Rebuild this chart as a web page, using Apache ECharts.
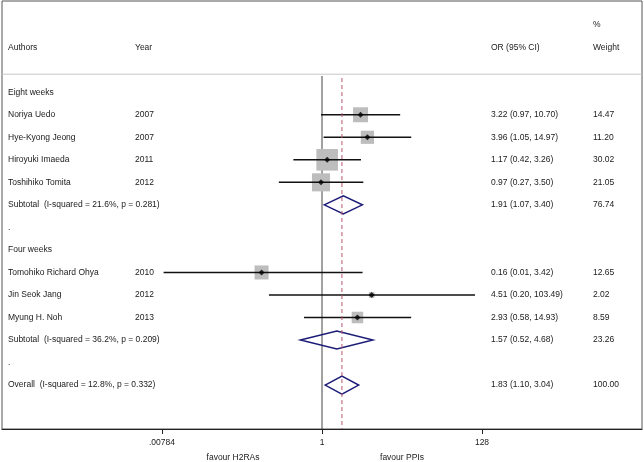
<!DOCTYPE html>
<html><head><meta charset="utf-8">
<script src="https://cdn.jsdelivr.net/npm/echarts@6/dist/echarts.min.js"></script>
<style>html,body{margin:0;padding:0;background:#fff}#c{width:644px;height:462px}</style>
</head><body><div id="c"></div>
<script>
// ---- data ----
const authors = ['Noriya Uedo','Hye-Kyong Jeong','Hiroyuki Imaeda','Toshihiko Tomita','Tomohiko Richard Ohya','Jin Seok Jang','Myung H. Noh'];
const years = [2007, 2007, 2011, 2012, 2010, 2012, 2013];
const orVals = [3.22, 3.96, 1.17, 0.97, 0.16, 4.51, 2.93];
const loVals = [0.97, 1.05, 0.42, 0.27, 0.0082, 0.20, 0.58];
const hiVals = [10.70, 14.97, 3.26, 3.50, 3.42, 103.49, 14.93];
const weights = [14.47, 11.20, 30.02, 21.05, 12.65, 2.02, 8.59];
const studyRows = [1, 2, 3, 4, 8, 9, 10];

const subLabels = ['Subtotal  (I-squared = 21.6%, p = 0.281)', 'Subtotal  (I-squared = 36.2%, p = 0.209)', 'Overall  (I-squared = 12.8%, p = 0.332)'];
const subOr = [1.91, 1.57, 1.83];
const subLo = [1.07, 0.52, 1.10];
const subHi = [3.40, 4.68, 3.04];
const subW = [76.74, 23.26, 100.00];
const subRows = [5, 11, 13];

const groupLabels = ['Eight weeks', 'Four weeks'];
const groupRows = [0, 7];
const dotRows = [6, 12];

const tickValues = [-7, 0, 7];            // log2 scale
const tickLabels = ['.00784', '1', '128'];

// ---- layout / style ----
const log2 = v => Math.log(v) / Math.LN2;
const FF = '"Liberation Sans", Arial, Helvetica, sans-serif';
const FS = 8.5;
const TXT = '#1a1a1a';
const colX = [8, 135, 491, 593];
const fmtCI = (o, l, h) => o.toFixed(2) + ' (' + l.toFixed(2) + ', ' + h.toFixed(2) + ')';

const textItems = [];
textItems.push([-2, 0, 'Authors'], [-2, 1, 'Year'], [-2, 2, 'OR (95% CI)'], [-3, 3, '%'], [-2, 3, 'Weight']);
groupLabels.forEach((g, i) => textItems.push([groupRows[i], 0, g]));
dotRows.forEach(r => textItems.push([r, 0, '.']));
authors.forEach((a, i) => {
  const r = studyRows[i];
  textItems.push([r, 0, a], [r, 1, String(years[i])], [r, 2, fmtCI(orVals[i], loVals[i], hiVals[i])], [r, 3, weights[i].toFixed(2)]);
});
subLabels.forEach((s, i) => {
  const r = subRows[i];
  textItems.push([r, 0, s], [r, 2, fmtCI(subOr[i], subLo[i], subHi[i])], [r, 3, subW[i].toFixed(2)]);
});

const chart = echarts.init(document.getElementById('c'), null, { renderer: 'canvas' });
const YMIN = -4.05, YMAX = 14.95;

const option = {
  animation: false,
  backgroundColor: '#fff',
  grid: { left: 2, right: 2, top: 1, bottom: 33, show: true, borderColor: '#555', borderWidth: 1, backgroundColor: 'transparent' },
  xAxis: {
    type: 'value', min: -14, max: 14,
    axisLine: { show: true, onZero: false, lineStyle: { color: '#222', width: 1.2 } },
    axisTick: { show: true, customValues: tickValues, length: 5, lineStyle: { color: '#222' } },
    axisLabel: { show: true, customValues: tickValues, margin: 9, fontSize: FS, fontFamily: FF, color: TXT,
      formatter: v => { const i = tickValues.indexOf(v); return i >= 0 ? tickLabels[i] : ''; } },
    splitLine: { show: false }
  },
  yAxis: { type: 'value', inverse: true, min: YMIN, max: YMAX, show: false, splitLine: { show: false } },
  graphic: [
    { type: 'text', x: 233, y: 458, style: { text: 'favour H2RAs', fontSize: FS, fontFamily: FF, fill: TXT, align: 'center', verticalAlign: 'middle' } },
    { type: 'text', x: 402, y: 458, style: { text: 'favour PPIs', fontSize: FS, fontFamily: FF, fill: TXT, align: 'center', verticalAlign: 'middle' } }
  ],
  series: [
    // header separator
    { type: 'custom', z: 1, data: [[-14, 14, -0.8]],
      renderItem: (p, api) => {
        const a = api.coord([api.value(0), api.value(2)]), b = api.coord([api.value(1), api.value(2)]);
        return { type: 'line', shape: { x1: a[0], y1: a[1], x2: b[0], y2: b[1] }, style: { stroke: '#c8c8c8', lineWidth: 1 } };
      } },
    // null line at OR = 1
    { type: 'custom', z: 2, data: [[0, -0.72, YMAX]],
      renderItem: (p, api) => {
        const a = api.coord([api.value(0), api.value(1)]), b = api.coord([api.value(0), api.value(2)]);
        return { type: 'line', shape: { x1: a[0], y1: a[1], x2: b[0], y2: b[1] }, style: { stroke: '#444', lineWidth: 1 } };
      } },
    // squares
    { type: 'custom', z: 3, data: orVals.map((o, i) => [log2(o), studyRows[i], weights[i]]),
      renderItem: (p, api) => {
        const c = api.coord([api.value(0), api.value(1)]);
        const s = 3.94 * Math.sqrt(api.value(2));
        return { type: 'rect', shape: { x: c[0] - s / 2, y: c[1] - s / 2, width: s, height: s }, style: { fill: '#bdbdbd' } };
      } },
    // CI lines
    { type: 'custom', z: 4, data: studyRows.map((r, i) => [log2(loVals[i]), log2(hiVals[i]), r]),
      renderItem: (p, api) => {
        const a = api.coord([api.value(0), api.value(2)]), b = api.coord([api.value(1), api.value(2)]);
        return { type: 'line', shape: { x1: a[0], y1: a[1], x2: b[0], y2: b[1] }, style: { stroke: '#111', lineWidth: 1.5 } };
      } },
    // point estimates
    { type: 'scatter', z: 5, symbol: 'diamond', symbolSize: 6, itemStyle: { color: '#000' },
      data: orVals.map((o, i) => [log2(o), studyRows[i]]) },
    // pooled diamonds
    { type: 'custom', z: 5, data: subRows.map((r, i) => [log2(subLo[i]), log2(subOr[i]), log2(subHi[i]), r]),
      renderItem: (p, api) => {
        const r = api.value(3), h = 0.4;
        const pts = [api.coord([api.value(0), r]), api.coord([api.value(1), r - h]), api.coord([api.value(2), r]), api.coord([api.value(1), r + h])];
        return { type: 'polygon', shape: { points: pts }, style: { fill: 'none', stroke: '#1c1c78', lineWidth: 1.5 } };
      } },
    // overall effect dashed line
    { type: 'custom', z: 6, data: [[log2(subOr[2]), -0.63, YMAX]],
      renderItem: (p, api) => {
        const a = api.coord([api.value(0), api.value(1)]), b = api.coord([api.value(0), api.value(2)]);
        return { type: 'line', shape: { x1: a[0], y1: a[1], x2: b[0], y2: b[1] }, style: { stroke: '#b5586e', lineWidth: 1, lineDash: [4, 3] } };
      } },
    // table text
    { type: 'custom', z: 7, data: textItems.map(t => [t[1], t[0]]),
      renderItem: (p, api) => {
        const row = api.value(1), col = api.value(0);
        const y = api.coord([0, row])[1];
        return { type: 'text', style: { x: colX[col], y: y, text: textItems[p.dataIndex][2], fontSize: FS, fontFamily: FF, fill: TXT, align: 'left', verticalAlign: 'middle' } };
      } }
  ]
};
chart.setOption(option);
</script></body></html>
